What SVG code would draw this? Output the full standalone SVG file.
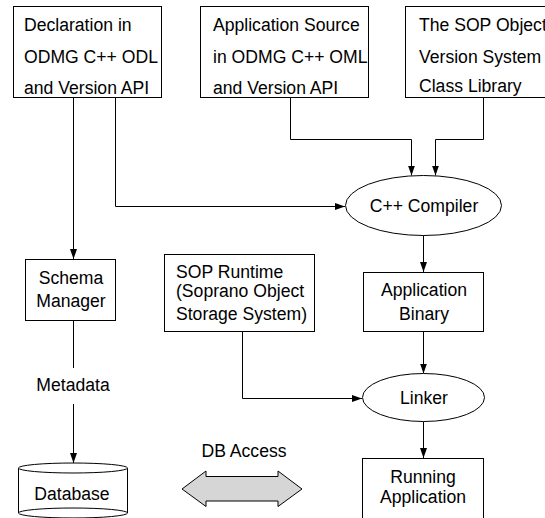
<svg xmlns="http://www.w3.org/2000/svg" width="545" height="518" viewBox="0 0 545 518">
<defs>
<style>
.box{fill:#fff;stroke:#000;stroke-width:1}
.t{font-family:"Liberation Sans",Arial,sans-serif;font-size:17.6px;fill:#000}
.m{text-anchor:middle}
.c{fill:none;stroke:#000;stroke-width:1}
</style>
<marker id="ah" markerWidth="10" markerHeight="7" refX="10" refY="3.5" orient="auto" markerUnits="userSpaceOnUse">
<path d="M0,0 L10,3.5 L0,7 Z" fill="#000"/>
</marker>
</defs>
<rect width="545" height="518" fill="#fff"/>
<g id="connectors">
<polyline class="c" points="73.5,97 73.5,259" marker-end="url(#ah)"/>
<polyline class="c" points="115.5,97 115.5,206.5 345,206.5" marker-end="url(#ah)"/>
<polyline class="c" points="290.5,97 290.5,139.5 411.5,139.5 411.5,175.5" marker-end="url(#ah)"/>
<polyline class="c" points="483.5,97 483.5,139.5 435.5,139.5 435.5,175.5" marker-end="url(#ah)"/>
<polyline class="c" points="423.5,235 423.5,272" marker-end="url(#ah)"/>
<polyline class="c" points="73.5,320 73.5,368"/>
<polyline class="c" points="73.5,404 73.5,463" marker-end="url(#ah)"/>
<polyline class="c" points="242.5,332 242.5,398.5 362,398.5" marker-end="url(#ah)"/>
<polyline class="c" points="423.5,332 423.5,373.5" marker-end="url(#ah)"/>
<polyline class="c" points="423.5,421.5 423.5,458" marker-end="url(#ah)"/>
</g>
<g id="decl">
<rect class="box" x="13.5" y="6.5" width="148" height="91"/>
<text class="t" x="24" y="31">Declaration in</text>
<text class="t" x="24" y="63">ODMG C++ ODL</text>
<text class="t" x="24" y="94">and Version API</text>
</g>
<g id="appsrc">
<rect class="box" x="200.5" y="6.5" width="168" height="91"/>
<text class="t" x="213" y="31">Application Source</text>
<text class="t" x="213" y="63">in ODMG C++ OML</text>
<text class="t" x="213" y="94">and Version API</text>
</g>
<g id="soplib">
<rect class="box" x="405.5" y="6.5" width="160" height="91"/>
<text class="t" x="419" y="31">The SOP Object</text>
<text class="t" x="419" y="63">Version System</text>
<text class="t" x="419" y="92">Class Library</text>
</g>
<g id="compiler">
<ellipse class="box" cx="423.5" cy="205.5" rx="78" ry="30"/>
<text class="t m" x="424" y="212">C++ Compiler</text>
</g>
<g id="schema">
<rect class="box" x="25.5" y="259.5" width="90" height="61"/>
<text class="t m" x="71" y="284">Schema</text>
<text class="t m" x="71" y="307">Manager</text>
</g>
<g id="sopruntime">
<rect class="box" x="164.5" y="254.5" width="150" height="77"/>
<text class="t" x="176" y="278">SOP Runtime</text>
<text class="t" x="176" y="297">(Soprano Object</text>
<text class="t" x="176" y="320">Storage System)</text>
</g>
<g id="appbinary">
<rect class="box" x="363.5" y="272.5" width="120" height="59"/>
<text class="t m" x="424" y="296">Application</text>
<text class="t m" x="424" y="320">Binary</text>
</g>
<g id="metadata">
<text class="t m" x="73" y="391">Metadata</text>
</g>
<g id="linker">
<ellipse class="box" cx="423.5" cy="397.5" rx="61" ry="24"/>
<text class="t m" x="424" y="404">Linker</text>
</g>
<g id="database">
<path class="box" d="M18.5,468 L18.5,513 A54.5,5 0 0 0 127.5,513 L127.5,468"/>
<ellipse class="box" cx="73" cy="468" rx="54.5" ry="5"/>
<path class="c" d="M18.5,513 A54.5,5 0 0 1 127.5,513"/>
<text class="t m" x="72" y="500">Database</text>
</g>
<g id="dbaccess">
<text class="t m" x="244" y="457">DB Access</text>
<polygon points="182,489 206,471 206,476.5 278,476.5 278,471 302,489 278,506.5 278,501 206,501 206,506.5" fill="#d6d6d6" stroke="#000" stroke-width="1"/>
</g>
<g id="running">
<rect class="box" x="362.5" y="458.5" width="121" height="70"/>
<text class="t m" x="423" y="483">Running</text>
<text class="t m" x="423" y="503">Application</text>
</g>
</svg>
